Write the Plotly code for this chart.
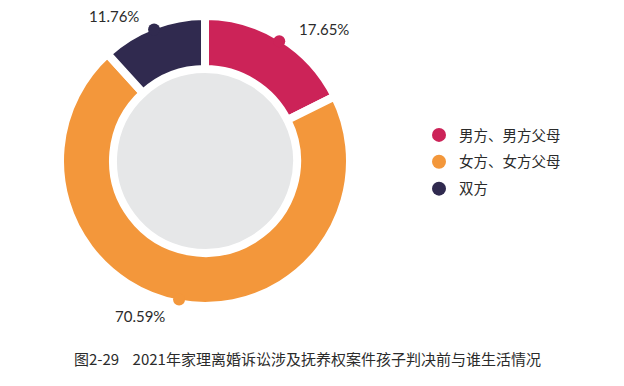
import numpy as np
import plotly.graph_objects as go

categories = ["男方、男方父母", "女方、女方父母", "双方"]
values = [17.65, 70.59, 11.76]
value_labels = ["17.65%", "70.59%", "11.76%"]
colors = ["#cc2358", "#f3973b", "#302a4f"]
caption = "图2-29\u00a0\u00a0\u00a0\u00a02021年家理离婚诉讼涉及抚养权案件孩子判决前与谁生活情况"

W, H = 624, 386
CX, CY = 205, 161          # donut center, px from top-left
R_PIE = 145                # pie radius incl. border
BORDER = 8
R_VIS = R_PIE - BORDER / 2
R_HOLE = 92
R_GRAY = 89
R_DOT = 6

fig = go.Figure()

fig.add_trace(go.Pie(
    labels=categories, values=values, sort=False, direction="clockwise",
    rotation=0, hole=R_HOLE / R_PIE, textinfo="none", hoverinfo="label+percent",
    marker=dict(colors=colors, line=dict(color="white", width=BORDER)),
    domain=dict(x=[(CX - R_PIE) / W, (CX + R_PIE) / W],
                y=[(H - CY - R_PIE) / H, (H - CY + R_PIE) / H]),
    showlegend=False,
))

# dots at slice mid-angles on outer edge
vals = np.array(values)
cum = np.cumsum(vals) - vals / 2
ang = cum / vals.sum() * 2 * np.pi
dx = CX + R_VIS * np.sin(ang)
dy = CY - R_VIS * np.cos(ang)
for i in range(len(vals)):
    fig.add_shape(type="circle", xref="x", yref="y", layer="above",
                  x0=dx[i] - R_DOT, x1=dx[i] + R_DOT, y0=dy[i] - R_DOT, y1=dy[i] + R_DOT,
                  fillcolor=colors[i], line=dict(width=0))

# legend proxies
for c, col in zip(categories, colors):
    fig.add_trace(go.Scatter(x=[None], y=[None], mode="markers", name=c,
                             legendgroup=c,
                             marker=dict(size=14, color=col, symbol="circle")))

label_offsets = [(45, -12), (-39, 16), (-40, -14)]
for i, (lab, (ox, oy)) in enumerate(zip(value_labels, label_offsets)):
    fig.add_annotation(x=dx[i] + ox, y=dy[i] + oy, xref="x", yref="y",
                       text=lab, showarrow=False,
                       font=dict(size=15, color="#2b2b2b", family="Lato, Noto Sans CJK SC"))

fig.add_annotation(x=307 / W, y=(H - 358) / H, xref="paper", yref="paper",
                   xanchor="center", yanchor="middle",
                   text=caption, showarrow=False,
                   font=dict(size=15, color="#2b2b2b", family="Noto Sans CJK SC, Lato"))

fig.add_shape(type="circle", xref="x", yref="y",
              x0=CX - R_GRAY, x1=CX + R_GRAY, y0=CY - R_GRAY, y1=CY + R_GRAY,
              fillcolor="#e6e7e8", line=dict(width=0), layer="below")

fig.update_layout(
    width=W, height=H, margin=dict(l=0, r=0, t=0, b=0),
    paper_bgcolor="white", plot_bgcolor="rgba(0,0,0,0)",
    xaxis=dict(range=[0, W], domain=[0, 1], visible=False, fixedrange=True),
    yaxis=dict(range=[H, 0], domain=[0, 1], visible=False, fixedrange=True),
    legend=dict(x=419 / W, y=(H - 162) / H, xanchor="left", yanchor="middle",
                font=dict(size=14.5, color="#2b2b2b", family="Noto Sans CJK SC, Lato"),
                tracegroupgap=5, bgcolor="rgba(0,0,0,0)"),
    font=dict(family="Lato, Noto Sans CJK SC"),
)

fig.write_html("out.html", config={"displayModeBar": False},
               post_script="document.body.style.margin='0';")
